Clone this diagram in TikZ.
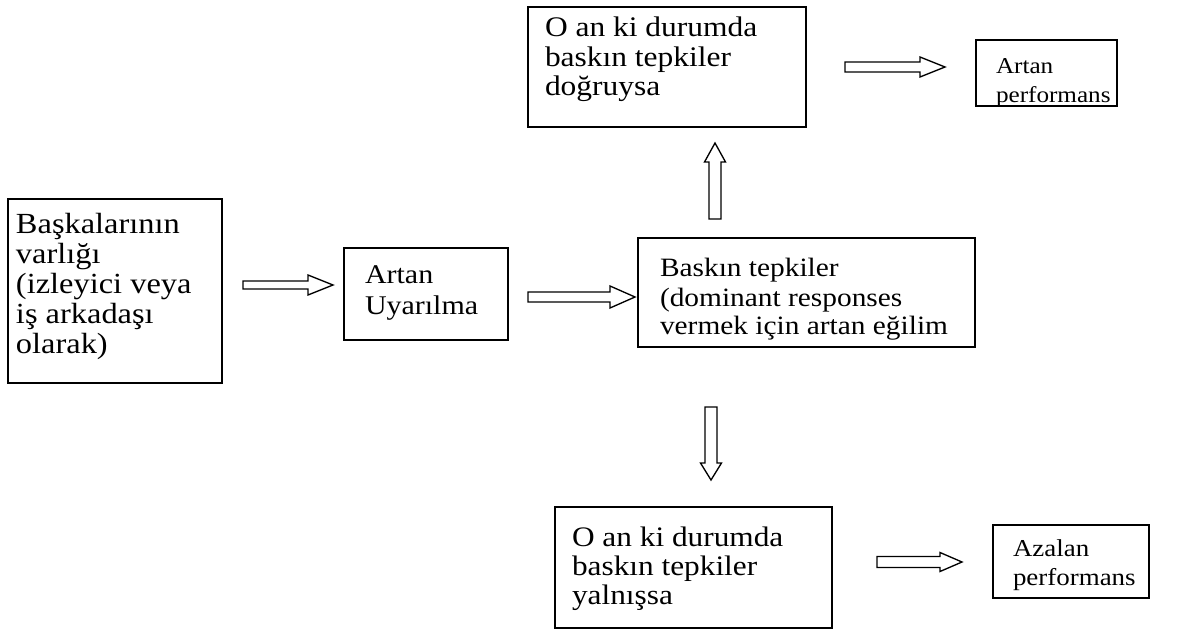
\documentclass[tikz,border=0pt]{standalone}
\usepackage{fontspec}
\setmainfont{Liberation Serif}[FakeStretch=1.11]
\usetikzlibrary{fit}
\begin{document}
\begin{tikzpicture}[x=0.75pt,y=-0.75pt,
  box/.style={draw, line width=1.2pt, inner sep=0pt, outer sep=0pt},
  txt/.style 2 args={anchor=base west, inner sep=0pt, outer sep=0pt,
              font={\fontsize{#1}{#2}\selectfont\lineskiplimit=-\maxdimen}},
  blk/.style={draw, line width=1pt, fill=white, line join=miter},
  pics/blockarrow/.style n args={4}{code={
    % #1 length, #2 half shaft width, #3 half head width, #4 head length
    \draw[blk] (0,-#2) -- ({#1-#4},-#2) -- ({#1-#4},-#3) -- (#1,0)
               -- ({#1-#4},#3) -- ({#1-#4},#2) -- (0,#2) -- cycle;}}]
\useasboundingbox (0,0) rectangle (1198,634);

% boxes
\node[box, fit={(8,199) (222,383)}] (b1) {};
\node[box, fit={(344,248) (508,340)}] (b2) {};
\node[box, fit={(638,238) (975,347)}] (b3) {};
\node[box, fit={(528,7) (806,127)}] (b4) {};
\node[box, fit={(976,40) (1117,106)}] (b5) {};
\node[box, fit={(555,507) (832,628)}] (b6) {};
\node[box, fit={(993,525) (1149,598)}] (b7) {};

% texts
\node[txt={21.9pt}{22.5pt}] (t1) at (16,234) {\vtop{\hbox{Başkalarının}\hbox{varlığı}\hbox{(izleyici veya}\hbox{iş arkadaşı}\hbox{olarak)}}};
\node[txt={20.25pt}{23.25pt}] (t2) at (365,284) {\vtop{\hbox{Artan}\hbox{Uyarılma}}};
\node[txt={19.85pt}{21.75pt}] (t3) at (660,277) {\vtop{\hbox{Baskın tepkiler}\hbox{(dominant responses}\hbox{vermek için artan eğilim}}};
\node[txt={21.26pt}{22.1pt}] (t4) at (545,37) {\vtop{\hbox{O an ki durumda}\hbox{baskın tepkiler}\hbox{doğruysa}}};
\node[txt={17pt}{21.75pt}] (t5) at (996,74) {\vtop{\hbox{Artan}\hbox{performans}}};
\node[txt={21.16pt}{22.1pt}] (t6) at (572,546) {\vtop{\hbox{O an ki durumda}\hbox{baskın tepkiler}\hbox{yalnışsa}}};
\node[txt={18.2pt}{21.75pt}] (t7) at (1013,556) {\vtop{\hbox{Azalan}\hbox{performans}}};

% block arrows
\coordinate (a1) at (243,285);
\coordinate (a2) at (528,297);
\coordinate (a3) at (715,219);
\coordinate (a4) at (711,407);
\coordinate (a5) at (845,67);
\coordinate (a6) at (877,562);
\pic at (a1) {blockarrow={90}{4}{10}{25}};
\pic at (a2) {blockarrow={107}{5}{11}{25}};
\pic[rotate=90] at (a3) {blockarrow={76}{6}{10.5}{19}};
\pic[rotate=-90] at (a4) {blockarrow={73}{6}{10.5}{17}};
\pic at (a5) {blockarrow={100}{5}{10}{25}};
\pic at (a6) {blockarrow={85}{5.5}{9.5}{22}};
\end{tikzpicture}
\end{document}
